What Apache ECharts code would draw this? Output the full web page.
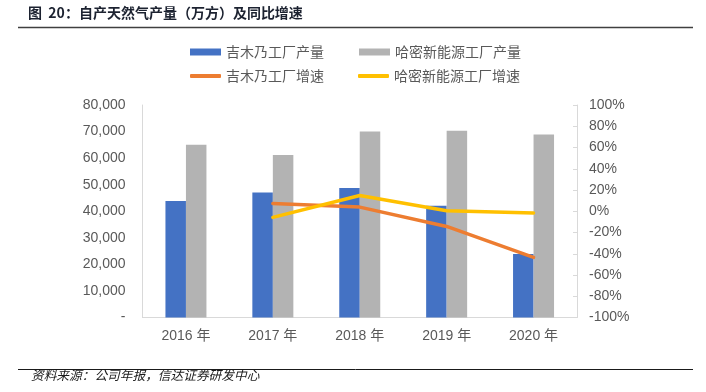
<!DOCTYPE html>
<html>
<head>
<meta charset="utf-8">
<script src="https://cdn.jsdelivr.net/npm/echarts@6/dist/echarts.min.js"></script>
<style>html,body{margin:0;padding:0;background:#fff}#c{width:706px;height:392px}</style>
</head>
<body>
<div id="c"></div>
<script>
const categories = ['2016 年', '2017 年', '2018 年', '2019 年', '2020 年'];
const jimunaiOutput = [43900, 47100, 48800, 42100, 23900];
const hamiOutput = [65000, 61200, 70000, 70300, 68900];
const jimunaiGrowth = [null, 7.3, 3.9, -14.3, -43.4];
const hamiGrowth = [null, -5.8, 14.8, 0.5, -1.7];
const seriesNames = ['吉木乃工厂产量', '哈密新能源工厂产量', '吉木乃工厂增速', '哈密新能源工厂增速'];
const titleText = '图  20：自产天然气产量（万方）及同比增速';
const sourceText = '资料来源：公司年报，信达证券研发中心';

const FONT = "'Liberation Sans', 'Noto Sans CJK SC', sans-serif";
const CJK = "'Noto Sans CJK SC', 'Liberation Sans', sans-serif";
const txt = '#595959';
const colors = ['#4472C4', '#B3B3B3', '#ED7D31', '#FFC000'];

function legendAt(i, left, top) {
  return {
    data: [seriesNames[i]], left: left, top: top,
    itemWidth: 31, itemHeight: i < 2 ? 7 : 4, itemGap: 5,
    icon: i < 2 ? 'rect' : 'roundRect',
    textStyle: { color: txt, fontSize: 14, fontFamily: CJK, padding: [0, 0, 0, 0] },
    padding: 0
  };
}

const chart = echarts.init(document.getElementById('c'), null, { renderer: 'canvas' });
chart.setOption({
  animation: false,
  color: colors,
  textStyle: { fontFamily: FONT },
  grid: { left: 142.5, right: 129, top: 105, bottom: 74.5, containLabel: false },
  legend: [legendAt(0, 190, 45), legendAt(1, 359, 45), legendAt(2, 190, 69), legendAt(3, 358, 69)],
  xAxis: {
    type: 'category', data: categories,
    axisLine: { lineStyle: { color: '#D9D9D9' } },
    axisTick: { show: false },
    axisLabel: { color: txt, fontSize: 14, margin: 12, fontFamily: FONT }
  },
  yAxis: [{
    type: 'value', min: 0, max: 80000, interval: 10000,
    axisLine: { show: true, lineStyle: { color: '#D9D9D9' } },
    axisTick: { show: false },
    splitLine: { show: false },
    axisLabel: {
      color: txt, fontSize: 14, margin: 17, fontFamily: FONT,
      formatter: v => v === 0 ? '-' : v.toLocaleString('en-US')
    }
  }, {
    type: 'value', min: -100, max: 100, interval: 20, position: 'right',
    axisLine: { show: true, lineStyle: { color: '#D9D9D9' } },
    axisTick: { show: true, inside: true, length: 4, lineStyle: { color: '#D9D9D9' } },
    splitLine: { show: false },
    axisLabel: { color: txt, fontSize: 14, margin: 12, fontFamily: FONT, formatter: v => v + '%' }
  }],
  series: [
    { name: seriesNames[0], type: 'bar', data: jimunaiOutput, barWidth: 20.5, barGap: '0%', itemStyle: { color: colors[0] } },
    { name: seriesNames[1], type: 'bar', data: hamiOutput, barWidth: 20.5, barGap: '0%', itemStyle: { color: colors[1] } },
    { name: seriesNames[2], type: 'line', yAxisIndex: 1, data: jimunaiGrowth, symbol: 'none', lineStyle: { width: 3.5, color: colors[2], cap: 'round' }, itemStyle: { color: colors[2] } },
    { name: seriesNames[3], type: 'line', yAxisIndex: 1, data: hamiGrowth, symbol: 'none', lineStyle: { width: 3.5, color: colors[3], cap: 'round' }, itemStyle: { color: colors[3] } }
  ],
  graphic: [
    { type: 'text', left: 28, top: 6, style: { text: titleText, fontSize: 14, fontWeight: 'bold', fill: '#1c2230', fontFamily: CJK } },
    { type: 'line', shape: { x1: 18, y1: 27.5, x2: 693, y2: 27.5 }, style: { stroke: '#404040', lineWidth: 1.5 } },
    { type: 'line', shape: { x1: 18, y1: 369.5, x2: 693, y2: 369.5 }, style: { stroke: '#1a1a1a', lineWidth: 1 } },
    { type: 'text', left: 31, top: 369, style: { text: sourceText, fontSize: 12.7, fontStyle: 'italic', fill: '#1a1a1a', fontFamily: CJK } }
  ]
});
</script>
</body>
</html>
